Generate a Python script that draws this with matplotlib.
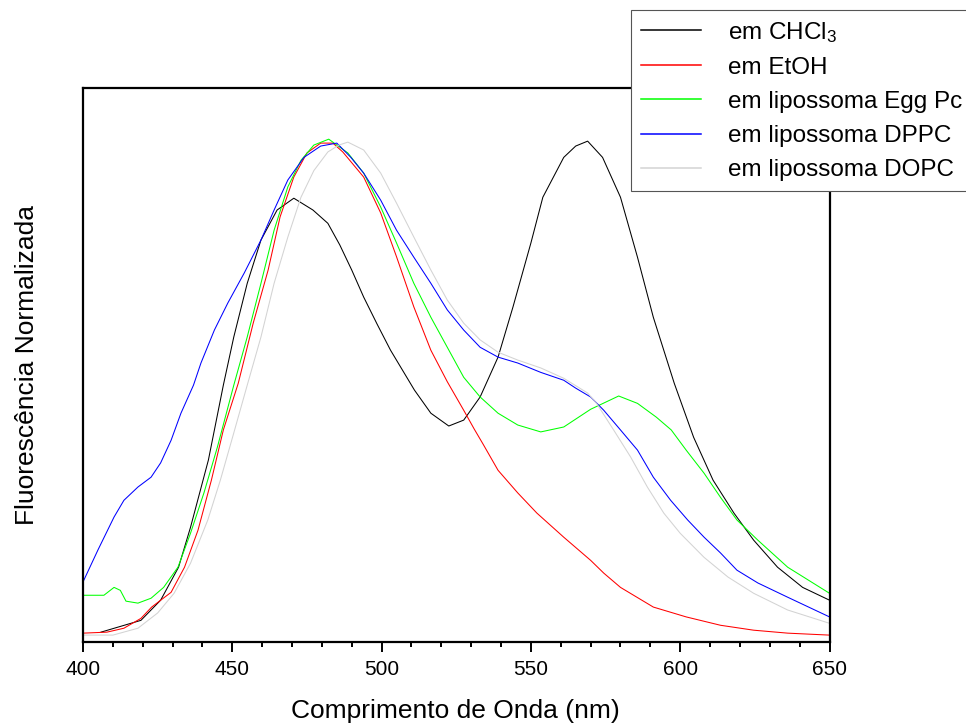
import matplotlib
matplotlib.use("Agg")
import matplotlib.pyplot as plt
from matplotlib.ticker import MultipleLocator

plt.rcParams['font.family'] = ['Liberation Sans', 'DejaVu Sans']
plt.rcParams['mathtext.default'] = 'regular'

# em CHCl3 (black)
wl_chcl3 = [406, 419.4, 426, 432, 436, 442, 447, 450.5, 455, 459.6, 465, 470.6, 477, 482,
            486, 490, 494, 498.5, 503, 511, 516.5, 522.5, 527.5, 533, 539, 544, 550, 554,
            561, 565, 569, 574, 580, 585.7, 591, 598, 604.5, 611, 618, 624.6, 632.6, 641, 650]
int_chcl3 = [0.002, 0.026, 0.067, 0.134, 0.215, 0.352, 0.504, 0.602, 0.711, 0.799, 0.860,
             0.884, 0.860, 0.833, 0.789, 0.738, 0.683, 0.628, 0.575, 0.494, 0.447, 0.421,
             0.433, 0.480, 0.561, 0.663, 0.793, 0.886, 0.967, 0.990, 1.000, 0.967, 0.886,
             0.764, 0.642, 0.508, 0.398, 0.311, 0.244, 0.189, 0.134, 0.093, 0.067]

# em EtOH (red)
wl_etoh = [400, 408, 413.7, 419.4, 423, 429.5, 434, 438.5, 443, 447, 452, 457, 462, 466,
           470.6, 475, 479.6, 483.7, 487, 494, 499.7, 505, 510.8, 516.5, 522, 527.5, 531,
           534, 539, 545.6, 552, 561, 570, 574.4, 580, 591, 602, 613.5, 624.6, 636, 650]
int_etoh = [0.000, 0.002, 0.010, 0.030, 0.053, 0.083, 0.134, 0.209, 0.311, 0.413, 0.508,
            0.630, 0.738, 0.846, 0.927, 0.976, 0.996, 0.996, 0.978, 0.927, 0.854, 0.765,
            0.663, 0.575, 0.511, 0.453, 0.415, 0.384, 0.331, 0.285, 0.244, 0.195, 0.148,
            0.122, 0.093, 0.053, 0.033, 0.016, 0.006, 0.000, -0.004]

# em lipossoma Egg Pc (green)
wl_egg = [400, 407, 410.4, 412.5, 414.4, 418.4, 422.8, 427, 431.8, 436, 440.5, 445, 450.5,
          455, 459.6, 464, 468.6, 473, 477.3, 482.3, 488.7, 494, 499.7, 505, 510.8, 516.5,
          522, 527.5, 533, 539, 545.6, 553.3, 561, 570, 579.4, 585.7, 592, 597, 602, 608,
          613.5, 619, 626, 636, 650]
int_egg = [0.077, 0.077, 0.093, 0.087, 0.065, 0.061, 0.071, 0.093, 0.134, 0.203, 0.285,
           0.378, 0.504, 0.602, 0.711, 0.819, 0.907, 0.961, 0.992, 1.004, 0.976, 0.935,
           0.866, 0.793, 0.711, 0.642, 0.581, 0.520, 0.480, 0.447, 0.423, 0.409, 0.419,
           0.455, 0.482, 0.467, 0.439, 0.413, 0.372, 0.325, 0.276, 0.230, 0.189, 0.134, 0.081]

# em lipossoma DPPC (blue)
wl_dppc = [400, 405, 410.4, 413.7, 418.4, 422.8, 426, 429.5, 432.8, 437, 439.5, 444, 448.5,
           454, 459.6, 464, 468.6, 474, 479.6, 485, 489.7, 494, 499.7, 505, 510.8, 516.5,
           522, 527.5, 533, 539, 545.6, 553.3, 561, 565, 570, 574.4, 580, 585.7, 591, 596.8,
           602.5, 608, 613.5, 619, 626, 636, 650]
int_dppc = [0.104, 0.169, 0.236, 0.270, 0.297, 0.317, 0.346, 0.392, 0.447, 0.504, 0.549,
            0.616, 0.671, 0.732, 0.799, 0.860, 0.921, 0.967, 0.990, 0.996, 0.967, 0.935,
            0.880, 0.819, 0.764, 0.711, 0.657, 0.616, 0.581, 0.561, 0.549, 0.530, 0.514,
            0.498, 0.480, 0.453, 0.413, 0.372, 0.317, 0.270, 0.230, 0.195, 0.163, 0.128,
            0.102, 0.073, 0.033]

# em lipossoma DOPC (light gray)
wl_dopc = [400, 410, 418.4, 425, 430.5, 436, 441.8, 446, 450.5, 455, 459.6, 464, 468.6, 473,
           477.3, 482, 485.7, 488.7, 494, 499.7, 505, 510.8, 516.5, 522, 527.5, 533, 539,
           545.6, 553.3, 561, 569, 572, 577.7, 583.4, 589, 594.5, 600, 608, 616, 624.6, 636, 650]
int_dopc = [-0.004, -0.004, 0.010, 0.041, 0.081, 0.142, 0.230, 0.311, 0.407, 0.504, 0.602,
            0.711, 0.805, 0.886, 0.940, 0.978, 0.992, 0.998, 0.982, 0.935, 0.874, 0.805,
            0.738, 0.677, 0.630, 0.596, 0.571, 0.555, 0.539, 0.518, 0.488, 0.467, 0.413,
            0.358, 0.297, 0.244, 0.203, 0.154, 0.114, 0.081, 0.047, 0.020]

fig = plt.figure(figsize=(9.66, 7.27), dpi=100)
ax = fig.add_axes([83 / 966, 85 / 727, 746.5 / 966, 554 / 727])

ax.plot(wl_chcl3, int_chcl3, color='#000000', lw=0.75, label='em CHCl$_3$')
ax.plot(wl_etoh, int_etoh, color='#ff0000', lw=0.75, label='em EtOH')
ax.plot(wl_egg, int_egg, color='#00ff00', lw=0.75, label='em lipossoma Egg Pc')
ax.plot(wl_dppc, int_dppc, color='#0000ff', lw=0.75, label='em lipossoma DPPC')
ax.plot(wl_dopc, int_dopc, color='#d3d3d3', lw=0.75, label='em lipossoma DOPC')

ax.set_xlim(400, 650)
ax.set_ylim(-0.018, 1.108)
ax.xaxis.set_major_locator(MultipleLocator(50))
ax.xaxis.set_minor_locator(MultipleLocator(10))
ax.tick_params(axis='x', which='major', direction='out', length=7, width=1.4,
               labelsize=15, pad=6)
ax.tick_params(axis='x', which='minor', direction='out', length=3.6, width=1.4)
ax.set_yticks([])
for s in ax.spines.values():
    s.set_linewidth(1.6)

fig.text(455 / 966, 9 / 727, 'Comprimento de Onda (nm)', ha='center', va='baseline',
         fontsize=19)
fig.text(27 / 966, 1 - 365 / 727, 'Fluorescência Normalizada', rotation=90,
         ha='center', va='center', fontsize=19)

leg = fig.legend(loc='upper left', bbox_to_anchor=(631 / 966, 1 - 10 / 727),
                 fontsize=17.5, frameon=True, fancybox=False, edgecolor='#555555',
                 handlelength=2.5, handletextpad=1.1, borderpad=0.4,
                 labelspacing=0.5, borderaxespad=0)
leg.get_frame().set_linewidth(0.8)
leg.get_frame().set_alpha(1)
for h in leg.get_lines():
    h.set_linewidth(1.1)

fig.savefig('out.png', dpi=100)
